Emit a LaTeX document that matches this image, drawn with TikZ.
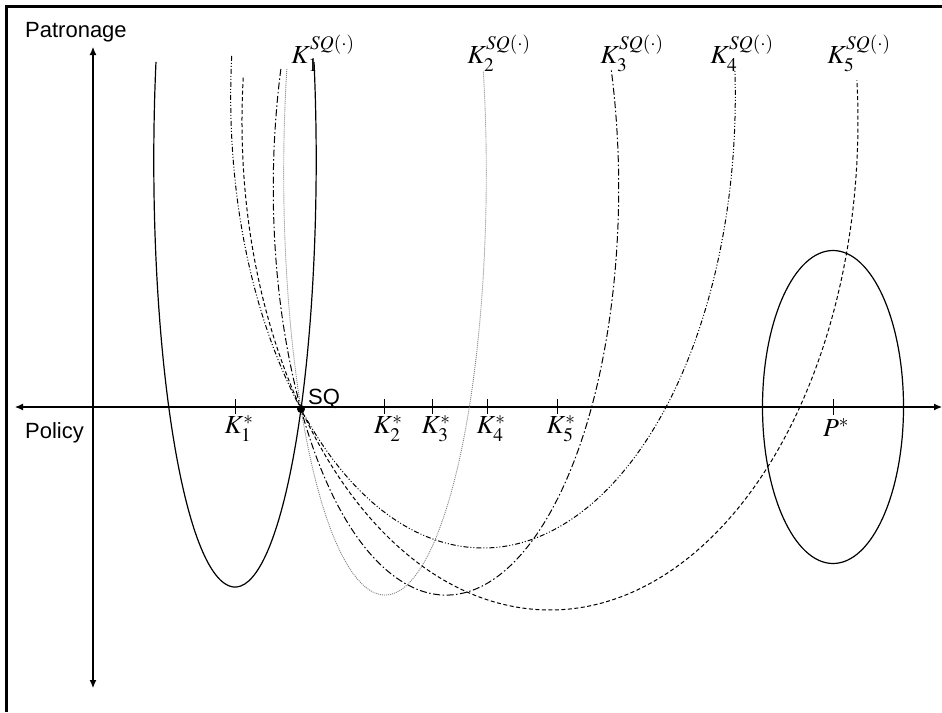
\documentclass[tikz,border=0pt]{standalone}
\usepackage{mathptmx}
\usepackage[no-math]{fontspec}
\newfontfamily\arialfont{Liberation Sans}
\usepackage{tikz}
\usetikzlibrary{arrows.meta,calc}
\definecolor{dotgray}{RGB}{130,130,130}

\begin{document}
\begin{tikzpicture}[
    x=1pt, y=-1pt,
    frameline/.style={line width=3pt},
    axisline/.style={{Latex[length=8pt,width=7pt]}-{Latex[length=8pt,width=7pt]}, line width=1.1pt},
    tickmark/.style={line width=0.9pt},
    icurve/.style={line width=1pt},
    solidcurve/.style={icurve, line width=1.2pt},
    dotcurve/.style={icurve, draw=dotgray, line width=0.9pt, dash pattern=on 1pt off 1pt},
    dashdotcurve/.style={icurve, dash pattern=on 7pt off 2.5pt on 1.5pt off 2.5pt},
    dashdotdotcurve/.style={icurve, dash pattern=on 5pt off 2pt on 1pt off 2pt on 1pt off 2pt},
    dashcurve/.style={icurve, dash pattern=on 4pt off 2.5pt},
    txtlbl/.style={inner sep=0pt, font=\arialfont\fontsize{22}{24}\selectfont},
    mathlbl/.style={inner sep=0pt, font=\fontsize{26}{28}\selectfont}
]
\useasboundingbox (0,0) rectangle (942,712);

\coordinate (polL) at (15,407);
\coordinate (polR) at (942,407);
\coordinate (patT) at (93,47);
\coordinate (patB) at (93,688);
\coordinate (SQ) at (301,409);
\coordinate (Pstar) at (833,407);

% frame
\draw[frameline] (6,712) -- (6,6) -- (942,6);

% axes
\draw[axisline] (polL) -- (polR);
\draw[axisline] (patB) -- (patT);
\node[txtlbl, anchor=base west] (patlbl) at (25,37) {Patronage};
\node[txtlbl, anchor=base west] (pollbl) at (25,438) {Policy};

% ideal points
\foreach \xk/\nm in {235/1,384/2,432/3,487/4,557/5} {
  \draw[tickmark] (\xk,399) -- (\xk,414);
  \node[mathlbl, anchor=north, xshift=4pt] (kst\nm) at (\xk,415) {$K_{\nm}^{*}$};
}
\draw[tickmark] (833,399) -- (833,415);
\node[mathlbl, anchor=north, xshift=3pt] (pst) at (833,418) {$P^{*}$};

% indifference curves through SQ
\draw[solidcurve] (235,160) ++(166.7:81.2pt and 427pt)
  arc[start angle=166.7, end angle=373.3, x radius=81.2pt, y radius=427pt];
\draw[dotcurve] (385,173) ++(165.7:101.3pt and 422pt)
  arc[start angle=165.7, end angle=374.0, x radius=101.3pt, y radius=422pt];
\draw[dashdotcurve] (446,188) ++(163.0:172.7pt and 407pt)
  arc[start angle=163.0, end angle=376.9, x radius=172.7pt, y radius=407pt];
\draw[dashdotdotcurve] (483,96) ++(174.9:252.3pt and 452pt)
  arc[start angle=174.9, end angle=363.3, x radius=252.3pt, y radius=452pt];
\draw[dashcurve] (550,121) ++(174.9:308pt and 489pt)
  arc[start angle=174.9, end angle=364.8, x radius=308pt, y radius=489pt];

% leader's ideal region
\draw[solidcurve] (Pstar) ellipse [x radius=70.5pt, y radius=156.5pt];

\fill (SQ) circle (4pt);
\node[txtlbl, anchor=base west] (sqlbl) at ($(SQ)+(7,-5)$) {SQ};

\foreach \xk/\nm in {323/1,499/2,632/3,742/4,859/5}
  \node[mathlbl, anchor=north] (ksq\nm) at (\xk,35) {$K_{\nm}^{SQ(\cdot)}$};

\end{tikzpicture}
\end{document}
